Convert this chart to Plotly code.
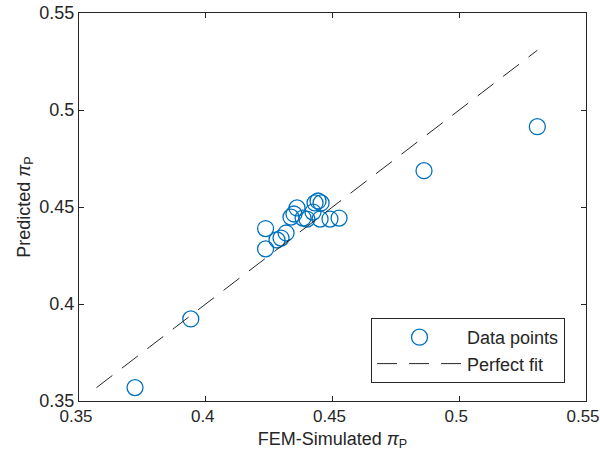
import plotly.graph_objects as go

fem_sim = [0.3721, 0.3941, 0.4236, 0.4236, 0.4281, 0.4297, 0.4317, 0.4336, 0.4348,
           0.4360, 0.4384, 0.4399, 0.4423, 0.4431, 0.4443, 0.4455, 0.4451, 0.4490,
           0.4526, 0.4861, 0.5308]
predicted = [0.3569, 0.3923, 0.4389, 0.4284, 0.4330, 0.4340, 0.4366, 0.4448, 0.4464,
             0.4495, 0.4443, 0.4438, 0.4474, 0.4521, 0.4531, 0.4521, 0.4438, 0.4438,
             0.4443, 0.4687, 0.4914]
tick_vals = [0.35, 0.4, 0.45, 0.5, 0.55]
tick_text = ["0.35", "0.4", "0.45", "0.5", "0.55"]

lo = min(min(fem_sim), min(predicted))
hi = max(max(fem_sim), max(predicted))
fit_line = [lo, hi]

blue = "#0072BD"
axcol = "#262626"
font = "Liberation Sans, Arial, sans-serif"
fs = 18

fig = go.Figure()
fig.add_trace(go.Scatter(
    x=fem_sim, y=predicted, mode="markers", name="Data points",
    marker=dict(symbol="circle-open", size=16, color=blue, line=dict(width=1.3, color=blue)),
))
fig.add_trace(go.Scatter(
    x=fit_line, y=fit_line, mode="lines", name="Perfect fit",
    line=dict(color="#262626", width=1, dash="20px,12px"),
))

axis_common = dict(
    showgrid=False, zeroline=False, showline=True, linecolor=axcol, linewidth=1,
    mirror="allticks", ticks="inside", ticklen=5, tickcolor=axcol,
    ticklabeloverflow="allow", automargin=False, range=[0.35, 0.55],
    tickvals=tick_vals, ticktext=tick_text,
)
fig.update_layout(
    width=600, height=462,
    margin=dict(l=79, r=14, t=13, b=61),
    plot_bgcolor="white", paper_bgcolor="white",
    font=dict(family=font, size=fs, color=axcol),
    xaxis=dict(title=dict(text="FEM-Simulated <i>π</i><sub>P</sub>", standoff=6,
                          font=dict(family=font, size=fs, color=axcol)),
               tickfont=dict(family=font, size=17, color=axcol),
               ticklabelshift=-3,
               **axis_common),
    yaxis=dict(title=dict(text="Predicted <i>π</i><sub>P</sub>", standoff=4,
                          font=dict(family=font, size=fs, color=axcol)),
               tickfont=dict(family=font, size=fs, color=axcol),
               **axis_common),
    legend=dict(x=0.9586, y=0.0464, xanchor="right", yanchor="bottom",
                bordercolor=axcol, borderwidth=1, bgcolor="white",
                font=dict(family=font, size=fs, color=axcol),
                itemwidth=85, tracegroupgap=0),
    showlegend=True,
)
fig.write_html("out.html")
